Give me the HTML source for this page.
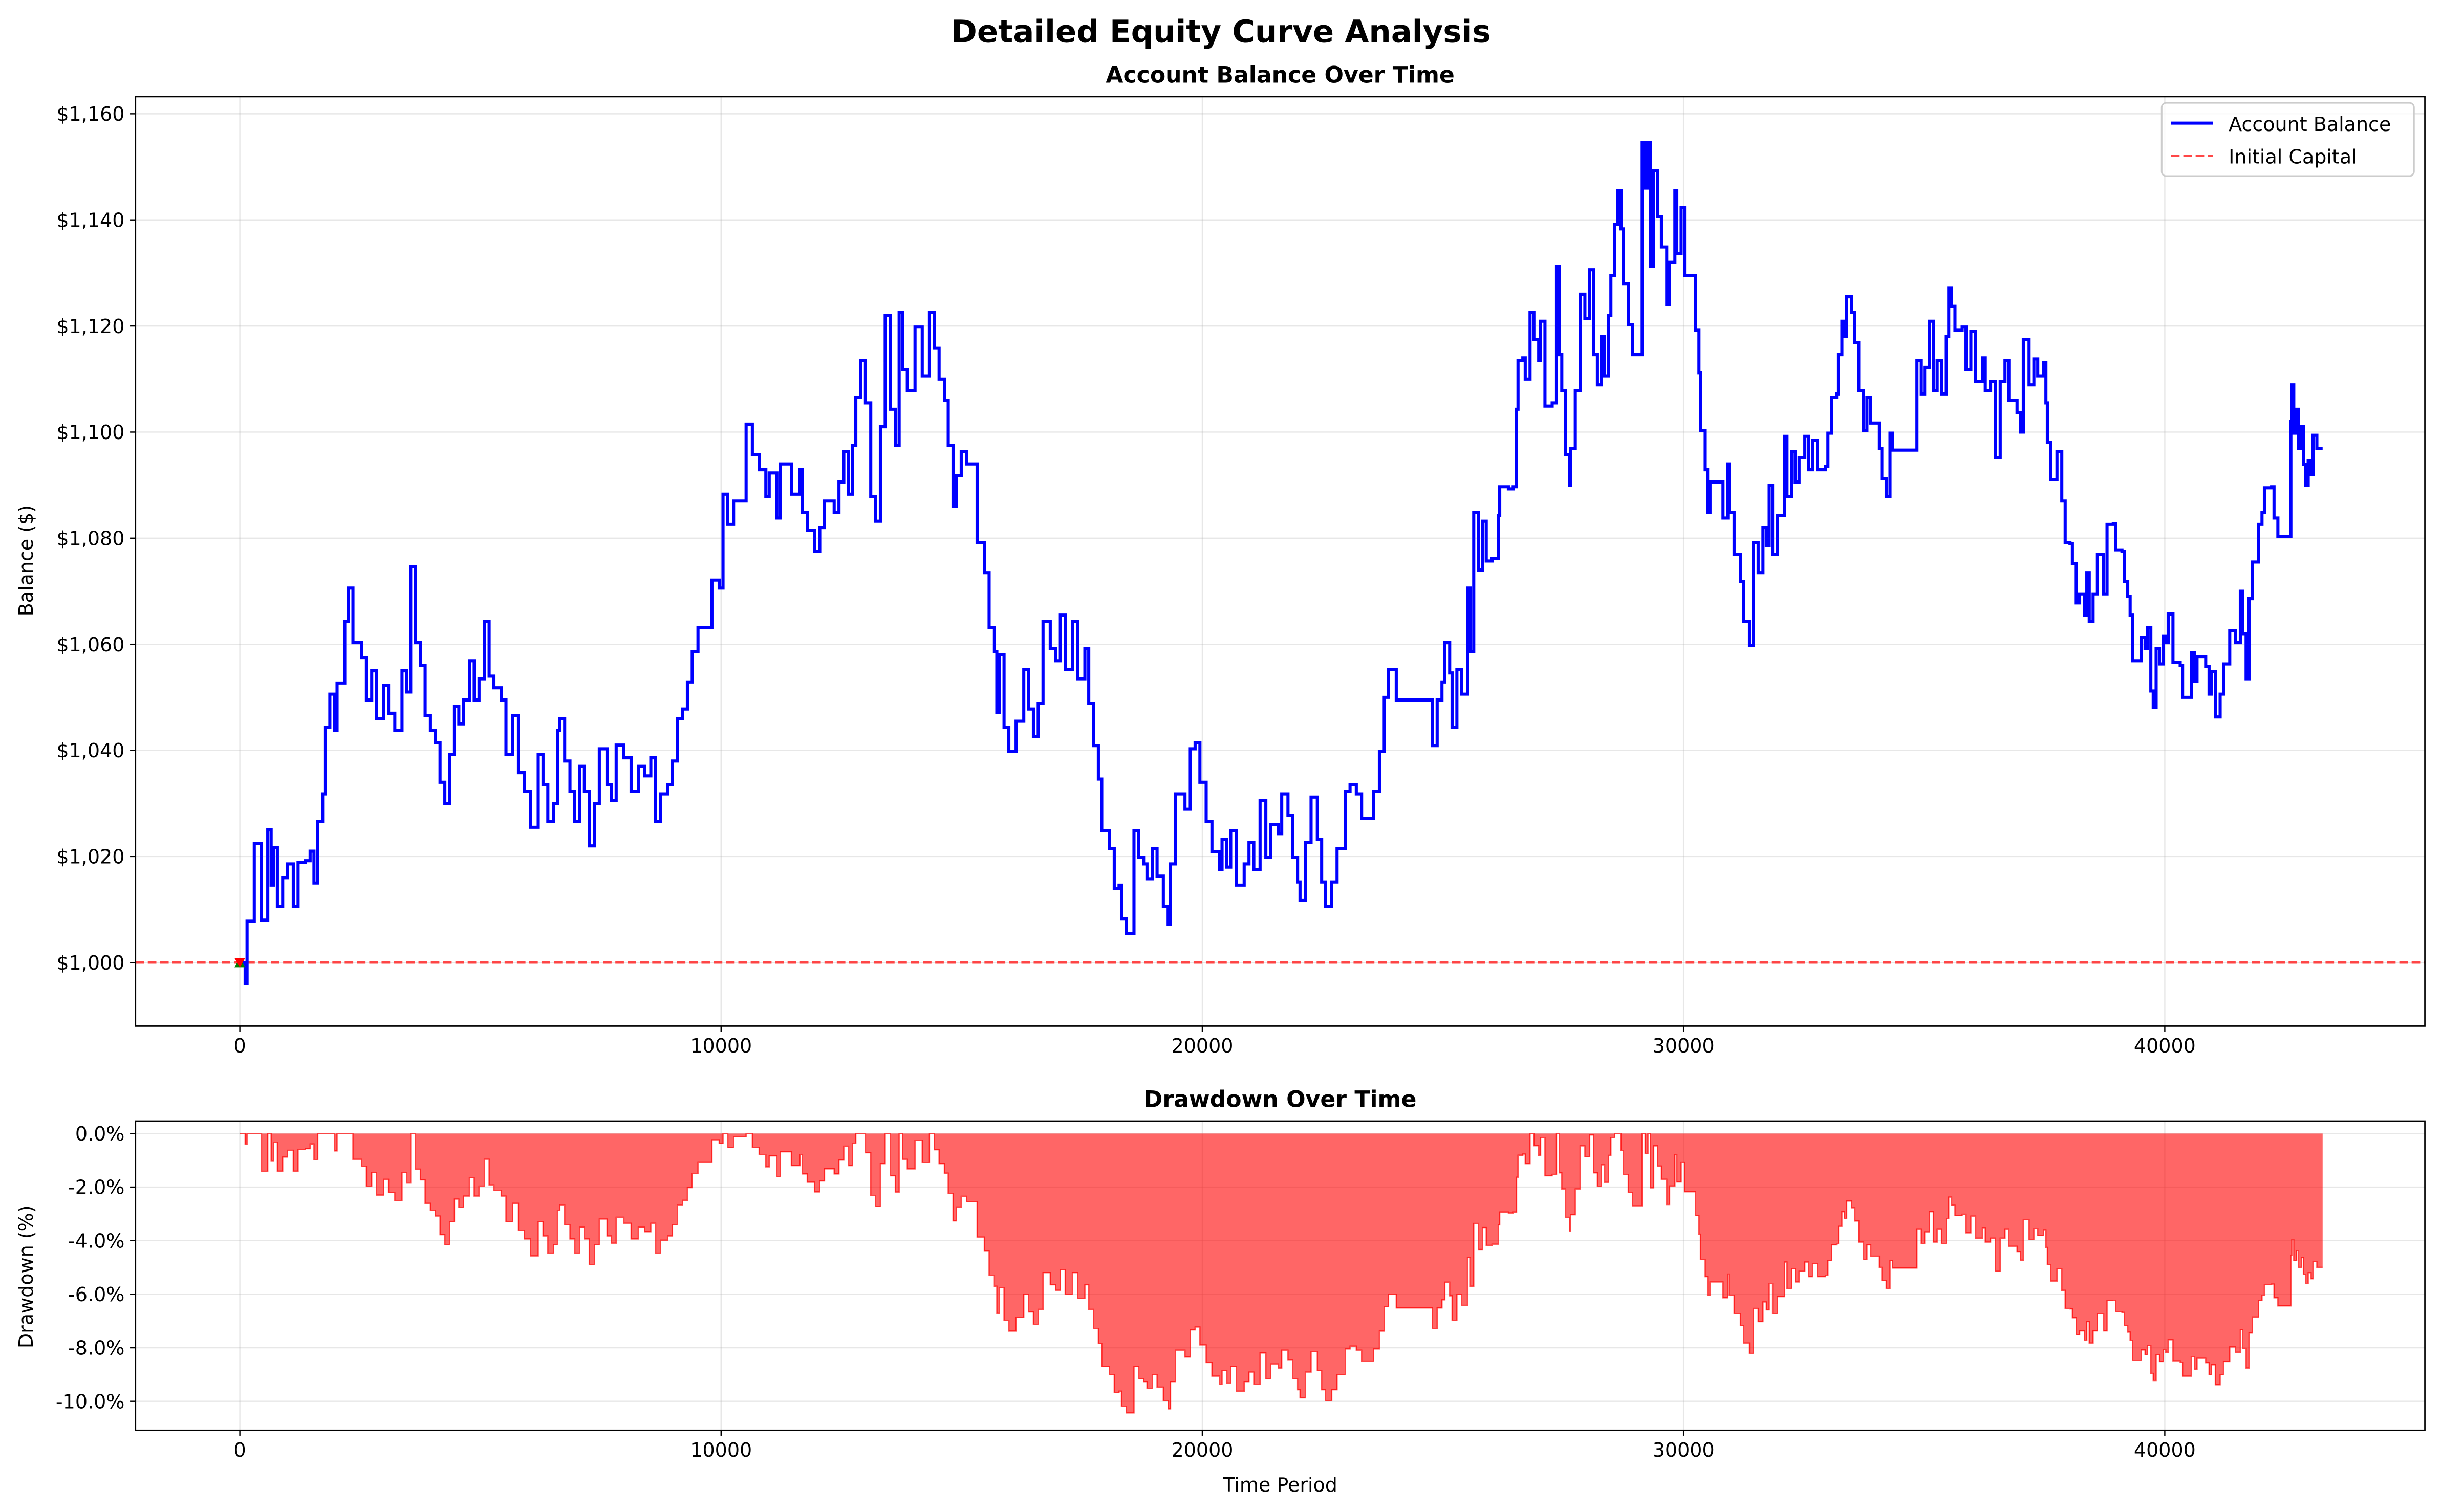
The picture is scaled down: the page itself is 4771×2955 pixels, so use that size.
<!DOCTYPE html>
<html><head><meta charset="utf-8"><style>
html,body{margin:0;padding:0;background:#fff}
svg{display:block;font-family:"DejaVu Sans","Liberation Sans",sans-serif}
</style></head><body>
<svg id="chart" width="4771" height="2955" viewBox="0 0 1568 971" xmlns="http://www.w3.org/2000/svg">
<rect x="0" y="0" width="1568" height="971" fill="#fff"/>
<text x="784" y="27" text-anchor="middle" font-size="20" font-weight="bold">Detailed Equity Curve Analysis</text>
<text x="822" y="53" text-anchor="middle" font-size="14.5" font-weight="bold">Account Balance Over Time</text>
<text x="822" y="711" text-anchor="middle" font-size="14.5" font-weight="bold">Drawdown Over Time</text>
<g id="topAxes"></g>
<g id="botAxes"></g>
<text transform="translate(21,360) rotate(-90)" text-anchor="middle" font-size="12.5">Balance ($)</text>
<text transform="translate(21,820) rotate(-90)" text-anchor="middle" font-size="12.5">Drawdown (%)</text>
<text x="822" y="958" text-anchor="middle" font-size="12.5">Time Period</text>
<g id="legendG">
<rect x="1388" y="66" width="162" height="47" rx="3" fill="#fff" fill-opacity="0.8" stroke="#ccc" stroke-width="1"/>
<line x1="1394" y1="79" x2="1421" y2="79" stroke="#0000ff" stroke-width="2"/>
<text x="1431" y="84" font-size="12.5">Account Balance</text>
<line x1="1394" y1="100" x2="1421" y2="100" stroke="#ff3333" stroke-opacity="0.9" stroke-width="1.5" stroke-dasharray="5.5,2.4"/>
<text x="1431" y="105" font-size="12.5">Initial Capital</text>
</g>
</svg>
<script>
const times=[0,110,150,300,450,580,650,700,780,890,990,1110,1210,1360,1460,1540,1620,1720,1780,1870,1970,2020,2180,2250,2350,2530,2630,2740,2840,2990,3090,3220,3370,3470,3550,3650,3750,3850,3960,4060,4160,4260,4360,4460,4550,4650,4770,4870,4970,5080,5180,5280,5430,5530,5670,5790,5910,6040,6200,6300,6400,6520,6600,6650,6750,6860,6960,7060,7160,7260,7370,7470,7630,7720,7820,7980,8130,8280,8410,8540,8640,8740,8890,8990,9090,9200,9300,9400,9520,9810,9960,10040,10140,10260,10520,10650,10790,10930,11000,11160,11230,11380,11460,11640,11690,11790,11940,12050,12150,12350,12450,12550,12650,12730,12800,12900,13000,13110,13210,13310,13410,13520,13620,13700,13770,13870,14030,14180,14330,14430,14530,14640,14720,14820,14890,14990,15100,15320,15470,15570,15680,15730,15780,15880,15980,16130,16290,16390,16490,16590,16690,16840,16950,17050,17150,17300,17410,17560,17640,17740,17840,17910,18070,18170,18270,18320,18420,18580,18680,18780,18850,18960,19060,19190,19290,19340,19440,19640,19750,19850,19950,20080,20200,20360,20410,20510,20590,20710,20870,20970,21070,21200,21320,21420,21580,21650,21780,21880,21980,22030,22140,22260,22390,22480,22560,22690,22800,22970,23070,23200,23310,23480,23560,23680,23780,23870,23990,24030,24730,24780,24880,24980,25040,25140,25190,25290,25390,25510,25570,25640,25740,25820,25900,26020,26150,26180,26360,26460,26530,26560,26660,26710,26810,26890,26990,27030,27120,27270,27360,27420,27470,27550,27630,27650,27750,27850,27950,28050,28130,28210,28290,28360,28440,28490,28570,28630,28700,28750,28850,28940,29100,29140,29200,29260,29310,29380,29460,29540,29650,29710,29820,29860,29950,30020,30250,30320,30350,30450,30500,30550,30800,30820,30920,30950,31050,31180,31250,31370,31450,31550,31650,31720,31780,31850,31950,32100,32150,32250,32320,32400,32520,32600,32680,32780,32950,33000,33080,33180,33220,33290,33340,33390,33490,33560,33640,33740,33810,33890,34070,34120,34210,34290,34340,34840,34850,34940,35010,35110,35190,35270,35360,35460,35510,35570,35640,35790,35870,35970,36070,36210,36270,36380,36480,36580,36680,36760,36930,37000,37060,37180,37280,37360,37480,37530,37560,37630,37760,37860,37930,38030,38080,38160,38230,38330,38380,38430,38510,38600,38730,38800,38930,38980,39110,39160,39230,39280,39330,39460,39510,39590,39640,39710,39760,39820,39890,39970,40020,40070,40170,40320,40370,40520,40550,40620,40670,40850,40920,40970,41050,41150,41220,41350,41470,41570,41620,41690,41750,41820,41950,42020,42070,42220,42270,42350,42610,42620,42640,42680,42740,42780,42840,42880,42930,42980,43040,43080,43160,43280];
const balance=[1000,996,1007.8,1022.4,1008,1025,1014.6,1021.7,1010.6,1016,1018.6,1010.6,1018.9,1019.2,1021,1015,1026.6,1031.8,1044.3,1050.6,1043.8,1052.7,1064.3,1070.6,1060.3,1057.5,1049.5,1055,1046,1052.3,1047,1043.8,1055,1051,1074.6,1060.3,1056,1046.6,1043.8,1041.5,1034,1030,1039.2,1048.3,1045,1049.5,1056.9,1049.5,1053.5,1064.3,1054,1051.8,1049.5,1039.2,1046.6,1035.8,1032.3,1025.5,1039.2,1033.5,1026.6,1030,1043.8,1046,1038,1032.3,1026.6,1037,1032.3,1022,1030,1040.3,1033.5,1030.6,1041,1038.6,1032.3,1037,1035.2,1038.6,1026.6,1031.8,1033.5,1038,1046,1047.8,1052.9,1058.6,1063.2,1072.1,1070.6,1088.3,1082.6,1087,1101.5,1095.8,1092.9,1087.8,1092.3,1083.8,1094,1094,1088.3,1092.9,1084.9,1081.5,1077.5,1082,1087,1084.9,1090.6,1096.3,1088.3,1097.5,1106.6,1113.5,1105.5,1087.8,1083.2,1101,1122,1104.3,1097.5,1122.6,1111.8,1107.8,1119.8,1110.6,1122.6,1115.8,1110,1106,1097.5,1086,1091.8,1096.3,1094,1079.2,1073.5,1063.2,1058.6,1047.2,1058,1044.3,1039.8,1045.5,1055.2,1047.8,1042.6,1048.9,1064.3,1059.2,1056.9,1065.5,1055.2,1064.3,1053.5,1059.2,1048.9,1040.9,1034.6,1024.9,1021.5,1014,1014.6,1008.3,1005.5,1024.9,1019.8,1018.6,1015.8,1021.5,1016.3,1010.6,1007.2,1018.6,1031.8,1028.9,1040.3,1041.5,1034,1026.6,1020.9,1017.5,1023.2,1018,1024.9,1014.6,1018.6,1022.6,1017.5,1030.6,1019.8,1026,1024.3,1031.8,1027.8,1019.8,1015.2,1011.8,1022.6,1031.2,1023.2,1015.2,1010.6,1015.2,1021.5,1032.3,1033.5,1031.8,1027.2,1027.2,1032.3,1039.8,1050,1055.2,1055.2,1049.5,1049.5,1040.9,1049.5,1052.9,1060.3,1054.6,1044.3,1055.2,1050.6,1070.6,1058.6,1084.9,1074,1083.2,1075.7,1076.2,1084.3,1089.7,1089.3,1089.7,1104.3,1113.5,1114,1110,1122.6,1117.5,1113.5,1120.9,1104.9,1105.5,1131.2,1114.6,1107.8,1095.8,1090,1096.9,1107.8,1126,1121.4,1130.6,1114.6,1108.9,1118,1110.6,1122,1129.5,1139.2,1145.5,1138.3,1128,1120.3,1114.6,1114.6,1154.6,1146,1154.6,1131.2,1149.3,1140.6,1134.9,1124,1132,1145.5,1133.7,1142.3,1129.5,1119.2,1111.2,1100.3,1092.9,1084.9,1090.6,1090.6,1083.8,1094,1084.9,1076.9,1071.8,1064.3,1059.8,1079.2,1073.5,1082,1078.6,1090,1076.9,1084.3,1099.2,1087.8,1096.3,1090.6,1095.2,1099.2,1092.9,1098.5,1092.9,1093.5,1099.8,1106.6,1107.2,1114.6,1120.9,1118,1125.5,1122.6,1116.9,1107.8,1100.3,1106.6,1101.7,1096.9,1091.2,1087.8,1099.8,1096.6,1096.6,1113.5,1107.2,1112.2,1120.9,1107.8,1113.5,1107.2,1118,1127.2,1123.7,1119.2,1119.8,1111.8,1119,1109.5,1114,1107.8,1109.5,1095.2,1109.5,1113.5,1106,1103.7,1100,1117.5,1108.9,1113.8,1110.6,1113.1,1105.5,1098.1,1091,1096.3,1087,1079.2,1079,1075.2,1067.8,1069.5,1065.5,1073.5,1064.3,1069.5,1076.9,1069.5,1082.6,1082.7,1077.8,1077.5,1071.8,1069,1065.5,1056.9,1056.9,1061.3,1059.2,1063.2,1051.2,1048.1,1059.2,1056.3,1061.5,1060.3,1065.7,1056.6,1056,1050,1050,1058.4,1053,1057.7,1055.8,1050.6,1054.9,1046.3,1050.6,1056.3,1062.6,1060.3,1070,1062,1053.5,1068.6,1075.5,1082.6,1084.9,1089.5,1089.7,1083.8,1080.3,1080.3,1102,1108.9,1099.8,1104.3,1096.9,1101.1,1093.9,1090,1094.6,1092,1099.4,1096.9,1096.9];
const initialCapital=1000;
const xTicks=[0,10000,20000,30000,40000];
const balTicks=[1000,1020,1040,1060,1080,1100,1120,1140,1160];
const ddTicks=[0,-2,-4,-6,-8,-10];

const NS='http://www.w3.org/2000/svg';
const AX_L=87,AX_R=1557,T1=62,B1=659,T2=720,B2=918.6;
function X(t){return 154+t*0.0309;}
function Y1(v){return 618.2-(v-1000)*3.4075;}
function Y2(d){return 728+d*(-17.2)*-1*-1;}
function mk(parent,tag,attrs){const e=document.createElementNS(NS,tag);for(const k in attrs)e.setAttribute(k,attrs[k]);parent.appendChild(e);return e;}
const topG=document.getElementById('topAxes'),botG=document.getElementById('botAxes');
const N=Math.min(times.length,balance.length);

function drawAxes(g,T,B,yt,yf,lab){
  for(const t of xTicks){
    const gl=mk(g,'line',{x1:X(t),x2:X(t),y1:T,y2:B,stroke:'#b0b0b0','stroke-opacity':0.3,'stroke-width':0.8});
    
    
    const tk=mk(g,'line',{x1:X(t),x2:X(t),y1:B,y2:B+3.5,stroke:'#000','stroke-width':0.8});
    
    
    const tx=mk(g,'text',{x:X(t),y:B+17,'text-anchor':'middle','font-size':12.5});
    tx.textContent=String(t);
    
    
  }
  for(const v of yt){
    const y=yf(v);
    const gl=mk(g,'line',{x1:AX_L,x2:AX_R,y1:y,y2:y,stroke:'#b0b0b0','stroke-opacity':0.3,'stroke-width':0.8});
    
    
    const tk=mk(g,'line',{x1:AX_L-3.5,x2:AX_L,y1:y,y2:y,stroke:'#000','stroke-width':0.8});
    
    
    const tx=mk(g,'text',{x:AX_L-7,y:y+4.5,'text-anchor':'end','font-size':12.5});
    tx.textContent=lab(v);
    
    
  }
}
drawAxes(topG,T1,B1,balTicks,Y1,v=>'$'+v.toLocaleString('en-US'));
drawAxes(botG,T2,B2,ddTicks,Y2,v=>v.toFixed(1)+'%');

const cap=mk(topG,'line',{x1:AX_L,x2:AX_R,y1:Y1(initialCapital),y2:Y1(initialCapital),stroke:'#ff3333','stroke-opacity':0.9,'stroke-width':1.5,'stroke-dasharray':'5.5,2.4'});



let d='M'+X(times[0])+','+Y1(balance[0]);
for(let i=1;i<N;i++){d+=' H'+X(times[i]).toFixed(2)+' V'+Y1(balance[i]).toFixed(2);}
const bl=mk(topG,'path',{d:d,fill:'none',stroke:'#0000ff','stroke-width':2});



const x0=X(times[0]),y0=Y1(balance[0]);
const m1=mk(topG,'path',{d:`M${x0-3.5},${y0+3} L${x0+3.5},${y0+3} L${x0},${y0-3} Z`,fill:'green'});


const m2=mk(topG,'path',{d:`M${x0-3.5},${y0-3} L${x0+3.5},${y0-3} L${x0},${y0+3} Z`,fill:'red'});



let peak=-Infinity;const dd=[];
for(let i=0;i<N;i++){peak=Math.max(peak,balance[i]);dd.push((balance[i]/peak-1)*100);}
let p='M'+X(times[0])+','+Y2(0)+' V'+Y2(dd[0]).toFixed(2);
for(let i=1;i<N;i++){p+=' H'+X(times[i]).toFixed(2)+' V'+Y2(dd[i]).toFixed(2);}
const ddf=mk(botG,'path',{d:p+' V'+Y2(0)+' Z',fill:'#ff0000','fill-opacity':0.6,stroke:'none'});


const ddl=mk(botG,'path',{d:p,fill:'none',stroke:'#ff0000','stroke-opacity':0.7,'stroke-width':0.8});



const f1=mk(topG,'rect',{x:AX_L,y:T1,width:AX_R-AX_L,height:B1-T1,fill:'none',stroke:'#000','stroke-width':0.9});


const f2=mk(botG,'rect',{x:AX_L,y:T2,width:AX_R-AX_L,height:B2-T2,fill:'none',stroke:'#000','stroke-width':0.9});


</script>
</body></html>
